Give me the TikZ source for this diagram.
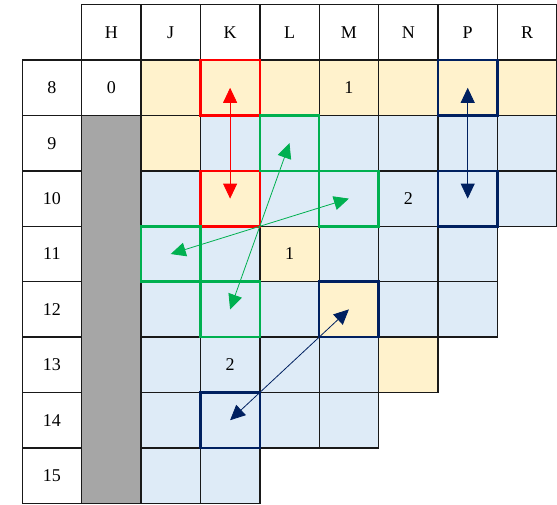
\documentclass[tikz,border=0pt]{standalone}
\usepackage{fontspec}
\setmainfont{Liberation Serif}
\usetikzlibrary{arrows.meta}
\definecolor{cyel}{HTML}{FFF2CC}
\definecolor{cblue}{HTML}{DEEBF7}
\definecolor{cgray}{HTML}{A6A6A6}
\definecolor{cred}{HTML}{FF0000}
\definecolor{cgreen}{HTML}{00B050}
\definecolor{cnavy}{HTML}{002060}
\newcommand\cellat[5]{\node[cell, fill=#4] (#1) at ({22.2+59.4*(#2+0.5)},{4.7+55.4*(#3+0.5)}) {#5};}
\begin{document}
\begin{tikzpicture}[x=1pt,y=-1pt,
  cell/.style={draw=black!90, line width=1.4pt, minimum width=59.4pt, minimum height=55.4pt, inner sep=0pt, outer sep=0pt, font=\fontsize{18}{21}\selectfont},
  hl/.style={line width=2.5pt},
  arr/.style={line width=0.8pt, -{Triangle[length=15pt,width=14pt]}},
  darr/.style={line width=0.8pt, {Triangle[length=15pt,width=14pt]}-{Triangle[length=15pt,width=14pt]}}]
\useasboundingbox (0,0) rectangle (557,504);
% header
\cellat{hH}{1}{0}{white}{H}
\cellat{hJ}{2}{0}{white}{J}
\cellat{hK}{3}{0}{white}{K}
\cellat{hL}{4}{0}{white}{L}
\cellat{hM}{5}{0}{white}{M}
\cellat{hN}{6}{0}{white}{N}
\cellat{hP}{7}{0}{white}{P}
\cellat{hR}{8}{0}{white}{R}
% row labels
\cellat{r8}{0}{1}{white}{8}
\cellat{r9}{0}{2}{white}{9}
\cellat{r10}{0}{3}{white}{10}
\cellat{r11}{0}{4}{white}{11}
\cellat{r12}{0}{5}{white}{12}
\cellat{r13}{0}{6}{white}{13}
\cellat{r14}{0}{7}{white}{14}
\cellat{r15}{0}{8}{white}{15}
% H column
\cellat{H8}{1}{1}{white}{0}
\node[cell, fill=cgray, minimum height=387.8pt] (Hgray) at ({22.2+59.4*1.5},{4.7+55.4*5.5}) {};
% row 8
\cellat{J8}{2}{1}{cyel}{}
\cellat{K8}{3}{1}{cyel}{}
\cellat{L8}{4}{1}{cyel}{}
\cellat{M8}{5}{1}{cyel}{1}
\cellat{N8}{6}{1}{cyel}{}
\cellat{P8}{7}{1}{cyel}{}
\cellat{R8}{8}{1}{cyel}{}
% row 9
\cellat{J9}{2}{2}{cyel}{}
\cellat{K9}{3}{2}{cblue}{}
\cellat{L9}{4}{2}{cblue}{}
\cellat{M9}{5}{2}{cblue}{}
\cellat{N9}{6}{2}{cblue}{}
\cellat{P9}{7}{2}{cblue}{}
\cellat{R9}{8}{2}{cblue}{}
% row 10
\cellat{J10}{2}{3}{cblue}{}
\cellat{K10}{3}{3}{cyel}{}
\cellat{L10}{4}{3}{cblue}{}
\cellat{M10}{5}{3}{cblue}{}
\cellat{N10}{6}{3}{cblue}{2}
\cellat{P10}{7}{3}{cblue}{}
\cellat{R10}{8}{3}{cblue}{}
% row 11
\cellat{J11}{2}{4}{cblue}{}
\cellat{K11}{3}{4}{cblue}{}
\cellat{L11}{4}{4}{cyel}{1}
\cellat{M11}{5}{4}{cblue}{}
\cellat{N11}{6}{4}{cblue}{}
\cellat{P11}{7}{4}{cblue}{}
% row 12
\cellat{J12}{2}{5}{cblue}{}
\cellat{K12}{3}{5}{cblue}{}
\cellat{L12}{4}{5}{cblue}{}
\cellat{M12}{5}{5}{cyel}{}
\cellat{N12}{6}{5}{cblue}{}
\cellat{P12}{7}{5}{cblue}{}
% row 13
\cellat{J13}{2}{6}{cblue}{}
\cellat{K13}{3}{6}{cblue}{2}
\cellat{L13}{4}{6}{cblue}{}
\cellat{M13}{5}{6}{cblue}{}
\cellat{N13}{6}{6}{cyel}{}
% row 14
\cellat{J14}{2}{7}{cblue}{}
\cellat{K14}{3}{7}{cblue}{}
\cellat{L14}{4}{7}{cblue}{}
\cellat{M14}{5}{7}{cblue}{}
% row 15
\cellat{J15}{2}{8}{cblue}{}
\cellat{K15}{3}{8}{cblue}{}
% highlights
\foreach \c in {K8,K10} \draw[hl, cred] (\c.south west) rectangle (\c.north east);
\foreach \c in {L9,M10,J11,K12} \draw[hl, cgreen] (\c.south west) rectangle (\c.north east);
\foreach \c in {P8,P10,M12,K14} \draw[hl, cnavy] (\c.south west) rectangle (\c.north east);
% arrows
\coordinate (g) at (K10.south east);
\draw[darr, cred] (K8.center) -- (K10.center);
\draw[darr, cnavy] (P8.center) -- (P10.center);
\draw[darr, cnavy] (M12.center) -- (K14.center);
\foreach \t in {L9,M10,J11,K12} \draw[arr, cgreen] (g) -- (\t.center);
\end{tikzpicture}
\end{document}
